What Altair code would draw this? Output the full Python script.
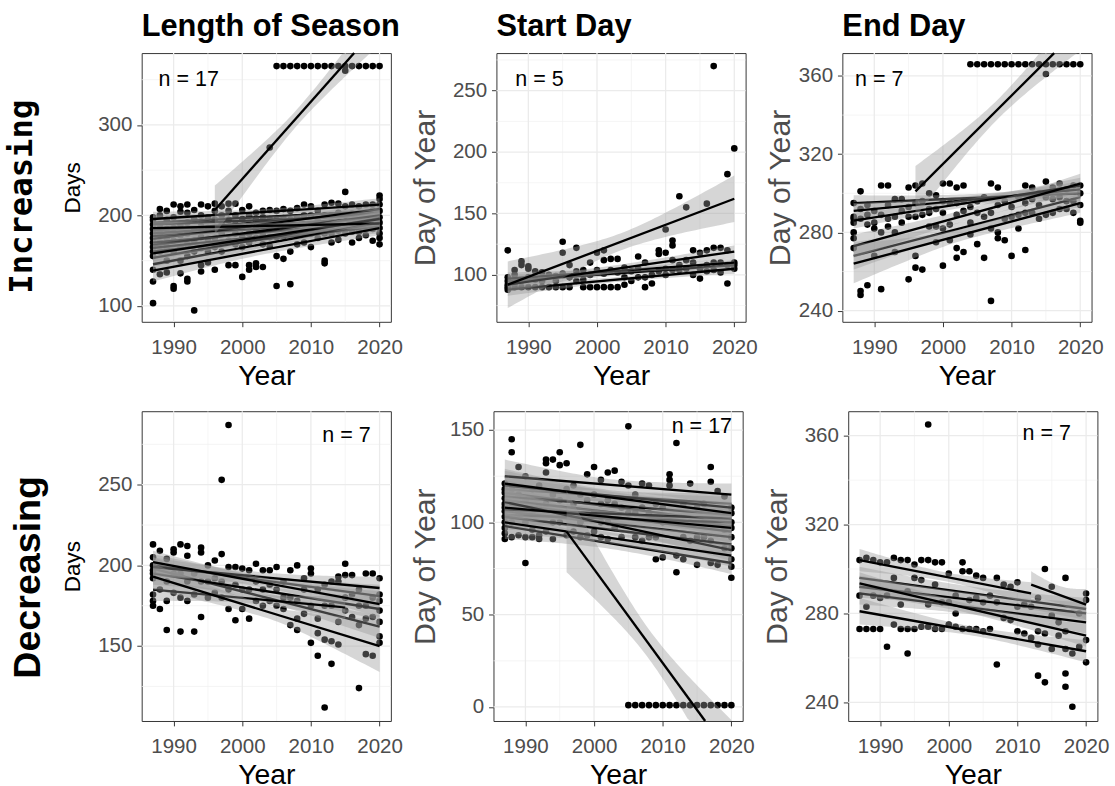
import altair as alt
import pandas as pd
import numpy as np

FONT = "Liberation Sans"
X_DOMAIN = [1985.35, 2021.65]
X_MAJOR = [1990, 2000, 2010, 2020]
X_MINOR = [1995, 2005, 2015]

col_titles = ["Length of Season", "Start Day", "End Day"]
row_titles = ["Increasing", "Decreasing"]

# ---------------- Length of Season, Increasing (n = 17) ----------------
ls_inc_pts = {
    1987: [103, 127, 140, 155, 160, 165, 170, 175, 180, 185, 190, 195, 198],
    1988: [207, 200, 190, 180, 170, 160, 135],
    1989: [205, 195, 185, 175, 165, 150, 137],
    1990: [212, 198, 186, 172, 160, 122, 119],
    1991: [210, 204, 190, 178, 165, 150, 136],
    1992: [212, 203, 192, 180, 168, 155, 130, 127],
    1993: [95, 206, 196, 184, 172, 160],
    1994: [212, 200, 188, 176, 164, 145, 138],
    1995: [210, 198, 186, 174, 160, 148],
    1996: [213, 205, 195, 185, 175, 165, 140],
    1997: [210, 200, 190, 180, 170, 160],
    1998: [213, 205, 195, 185, 172, 145],
    1999: [213, 200, 190, 180, 168, 145],
    2000: [206, 196, 186, 176, 165, 132],
    2001: [210, 200, 190, 180, 170, 140, 145],
    2002: [203, 195, 185, 175, 143, 147],
    2003: [205, 198, 188, 178, 168, 143],
    2004: [275, 206, 196, 186, 176, 166],
    2005: [365, 205, 196, 186, 176, 155, 122],
    2006: [365, 207, 197, 187, 177, 152],
    2007: [365, 205, 195, 185, 160, 124],
    2008: [365, 208, 198, 188, 178, 168],
    2009: [365, 212, 200, 190, 180, 170],
    2010: [365, 210, 200, 190, 180, 165],
    2011: [365, 205, 195, 185, 175],
    2012: [365, 212, 200, 190, 180, 150, 147],
    2013: [365, 214, 200, 190, 180, 170],
    2014: [365, 213, 203, 193, 183, 173],
    2015: [365, 360, 226, 210, 200, 190, 180],
    2016: [365, 212, 202, 192, 182, 170],
    2017: [365, 210, 200, 190, 182, 175],
    2018: [365, 212, 203, 193, 185, 178],
    2019: [365, 212, 205, 195, 185, 172],
    2020: [365, 222, 218, 212, 205, 198, 192, 186, 180, 175, 168],
}
# (start year, end year, start value, end value, band half-width start / middle / end)
ls_inc_fits = [
    (1987, 2020, 192, 205, 9, 4, 8), (1987, 2020, 190, 200, 9, 4, 8),
    (1987, 2020, 183, 203, 9, 4, 8), (1987, 2020, 180, 198, 9, 4, 8),
    (1987, 2020, 177, 195, 9, 4, 8), (1987, 2020, 174, 207, 9, 4, 8),
    (1987, 2020, 170, 193, 9, 4, 8), (1987, 2020, 167, 200, 9, 4, 8),
    (1987, 2020, 164, 190, 9, 4, 8), (1987, 2020, 160, 188, 9, 4, 8),
    (1987, 2020, 153, 197, 10, 4, 8), (1987, 2020, 146, 192, 10, 4, 8),
    (1987, 2020, 158, 196, 9, 4, 8), (1987, 2020, 186, 191, 8, 3, 7),
    (1987, 2020, 139, 186, 12, 5, 8), (1987, 2020, 196, 212, 8, 3, 7),
    (1996, 2020, 206, 411, 27, 9, 22),
]

# ---------------- Start Day, Increasing (n = 5) ----------------
sd_inc_pts = {
    1987: [120, 98, 95, 92, 90, 88], 1988: [104, 100, 93, 90], 1989: [111, 108, 95, 90],
    1990: [107, 105, 98, 90], 1991: [103, 96, 90], 1992: [102, 95, 90], 1993: [100, 90],
    1994: [99, 95, 90], 1995: [127, 118, 101, 90], 1996: [108, 98, 90], 1997: [122, 103, 95],
    1998: [104, 96, 90], 1999: [110, 100, 90], 2000: [118, 104, 90], 2001: [120, 112, 101, 90],
    2002: [113, 104, 90], 2003: [113, 102, 90], 2004: [106, 98, 92], 2005: [103, 95],
    2006: [115, 105, 98], 2007: [110, 98, 90], 2008: [100, 93], 2009: [120, 117, 103],
    2010: [137, 118, 105, 100], 2011: [128, 124, 112, 104], 2012: [164, 108, 104],
    2013: [155, 112, 105], 2014: [120, 110, 100], 2015: [118, 105, 97],
    2016: [158, 120, 108, 103], 2017: [270, 122, 110, 104], 2018: [122, 110, 102],
    2019: [182, 120, 108, 93], 2020: [203, 110, 108, 105],
}
sd_inc_fits = [
    (1987, 2020, 95, 108, 5, 2, 4), (1987, 2020, 97, 110, 5, 2, 4),
    (1987, 2020, 88, 105, 5, 2, 4), (1987, 2020, 92, 119, 6, 3, 5),
    (1987, 2020, 92, 162, 19, 7, 19),
]

# ---------------- End Day, Increasing (n = 7) ----------------
ed_inc_pts = {
    1987: [295, 288, 287, 285, 280, 277, 272], 1988: [301, 292, 287, 250, 248],
    1989: [294, 289, 284, 253], 1990: [291, 285, 282, 268], 1991: [304, 289, 280, 251],
    1992: [304, 294, 287, 283], 1993: [297, 288, 280, 270], 1994: [297, 291, 285],
    1995: [303, 293, 288, 256], 1996: [304, 295, 288, 268, 262], 1997: [305, 296, 289, 261],
    1998: [300, 292, 290, 283], 1999: [299, 292, 283, 275], 2000: [305, 296, 290, 282, 263],
    2001: [305, 295, 284, 276], 2002: [303, 295, 289, 272, 267], 2003: [304, 296, 291, 270],
    2004: [366, 293, 285, 279], 2005: [366, 296, 290, 274], 2006: [366, 298, 288, 267],
    2007: [366, 305, 290, 282, 245], 2008: [366, 303, 294, 280, 277], 2009: [366, 296, 287, 276],
    2010: [366, 293, 288, 268], 2011: [366, 298, 289, 282], 2012: [366, 304, 295, 290, 271],
    2013: [366, 303, 297, 290], 2014: [366, 300, 294, 287], 2015: [361, 366, 306, 298, 289],
    2016: [366, 303, 297, 290], 2017: [366, 305, 298, 292], 2018: [366, 302, 296, 292],
    2019: [366, 304, 296, 290], 2020: [366, 304, 300, 294, 286, 285],
}
ed_inc_fits = [
    (1987, 2020, 268, 298, 7, 3, 5), (1987, 2020, 295, 300, 4, 2, 4),
    (1987, 2020, 291, 302, 4, 2, 4), (1987, 2020, 286, 304, 4, 2, 4),
    (1987, 2020, 273, 305, 6, 3, 5), (1987, 2020, 264, 295, 10, 3, 5),
    (1996, 2020, 301, 385, 13, 5, 12),
]

# ---------------- Length of Season, Decreasing (n = 7) ----------------
ls_dec_pts = {
    1987: [213, 205, 200, 197, 195, 192, 182, 178, 175], 1988: [209, 200, 185, 173],
    1989: [204, 190, 178, 160], 1990: [210, 208, 195, 183], 1991: [213, 195, 180, 159],
    1992: [212, 206, 190, 178], 1993: [195, 182, 159], 1994: [211, 208, 190, 168],
    1995: [200, 190, 180], 1996: [203, 192, 183], 1997: [253, 207, 190, 180],
    1998: [287, 199, 185, 173], 1999: [199, 188, 166], 2000: [198, 185, 173],
    2001: [197, 185, 167], 2002: [201, 190, 178], 2003: [197, 185, 175], 2004: [197, 188, 178],
    2005: [199, 185, 175], 2006: [190, 180, 173], 2007: [197, 180, 163],
    2008: [200, 178, 167, 160], 2009: [192, 185, 170], 2010: [198, 195, 175, 152],
    2011: [185, 167, 158, 144], 2012: [188, 175, 154, 112], 2013: [190, 175, 153, 139],
    2014: [193, 190, 165, 151], 2015: [201, 194, 180, 172], 2016: [194, 182, 168],
    2017: [185, 175, 163, 124], 2018: [195, 175, 167, 145], 2019: [195, 180, 168, 144],
    2020: [192, 182, 178, 172, 165, 156, 152],
}
ls_dec_fits = [
    (1987, 2020, 198, 162, 7, 3, 7), (1987, 2020, 195, 173, 7, 3, 7),
    (1987, 2020, 200, 181, 7, 3, 7), (1987, 2015, 185, 174, 7, 3, 7),
    (1987, 2020, 199, 186, 6, 3, 7), (1987, 2020, 202, 176, 7, 3, 8),
    (1987, 2020, 193, 150, 8, 4, 16),
]

# ---------------- Start Day, Decreasing (n = 17) ----------------
sd_dec_pts = {
    1987: [121, 118, 116, 113, 110, 108, 106, 103, 100, 97, 94, 91],
    1988: [145, 138, 118, 110, 100, 92], 1989: [130, 115, 105, 93],
    1990: [125, 112, 100, 92, 78], 1991: [118, 105, 96, 92], 1992: [120, 108, 93, 91],
    1993: [134, 132, 127, 110, 95], 1994: [134, 115, 100, 91], 1995: [138, 131, 112, 100],
    1996: [132, 118, 105, 93], 1997: [120, 110, 95], 1998: [142, 115, 100, 92],
    1999: [126, 112, 93], 2000: [130, 115, 105, 95], 2001: [123, 110, 100, 92],
    2002: [127, 112, 100, 91], 2003: [128, 110, 97], 2004: [122, 108, 92],
    2005: [152, 120, 105, 1], 2006: [115, 105, 92, 1], 2007: [121, 108, 90, 1],
    2008: [120, 105, 92, 1], 2009: [110, 92, 80, 1], 2010: [108, 100, 81, 1],
    2011: [126, 123, 120, 1], 2012: [143, 100, 82, 73, 1], 2013: [110, 92, 80, 1],
    2014: [121, 100, 90, 1], 2015: [108, 92, 77, 1], 2016: [110, 100, 92, 1],
    2017: [130, 122, 90, 78, 1], 2018: [117, 100, 77, 1], 2019: [114, 96, 86, 1],
    2020: [108, 105, 100, 97, 92, 86, 80, 76, 70, 1],
}
sd_dec_fits = [
    (1987, 2020, 118, 110, 7, 3, 6), (1987, 2020, 116, 100, 7, 3, 6),
    (1987, 2020, 114, 104, 7, 3, 6), (1987, 2020, 112, 98, 7, 3, 6),
    (1987, 2020, 110, 95, 7, 3, 6), (1987, 2020, 106, 92, 7, 3, 6),
    (1987, 2020, 104, 100, 7, 3, 6), (1987, 2020, 103, 88, 7, 3, 6),
    (1987, 2020, 98, 78, 7, 3, 6), (1987, 2020, 107, 102, 7, 3, 6),
    (1987, 2020, 111, 85, 7, 3, 6), (1987, 2020, 120, 108, 9, 3, 6),
    (1987, 2020, 125, 115, 9, 3, 6), (1987, 2020, 121, 105, 7, 3, 6),
    (1987, 2020, 108, 97, 6, 3, 6), (1987, 2020, 100, 82, 6, 3, 6),
    (1996, 2020, 95, -27, 22, 8, 20),
]

# ---------------- End Day, Decreasing (n = 7) ----------------
ed_dec_pts = {
    1987: [304, 288, 273], 1988: [305, 283, 273], 1989: [304, 288, 273], 1990: [303, 287, 273],
    1991: [303, 288, 265], 1992: [305, 296, 275], 1993: [304, 284, 273],
    1994: [304, 290, 273, 262], 1995: [302, 296, 273], 1996: [304, 295, 274],
    1997: [365, 304, 284, 274], 1998: [303, 293, 273], 1999: [303, 285, 273],
    2000: [298, 285, 275], 2001: [288, 280, 274], 2002: [303, 299, 273], 2003: [299, 286, 273],
    2004: [297, 287, 273], 2005: [296, 285, 272], 2006: [288, 273], 2007: [296, 285, 257],
    2008: [293, 278], 2009: [292, 277], 2010: [294, 283, 272], 2011: [284, 271],
    2012: [283, 269], 2013: [287, 272, 266, 252], 2014: [300, 271, 249],
    2015: [292, 279, 264], 2016: [276, 270], 2017: [296, 272, 264, 253, 247],
    2018: [262, 238], 2019: [280, 265], 2020: [289, 286, 268, 258],
}
ed_dec_fits = [
    (1987, 2020, 296, 282, 5, 3, 5), (1987, 2020, 292, 280, 5, 3, 5),
    (1987, 2020, 289, 276, 5, 3, 5), (1987, 2012, 304, 289, 5, 2, 5),
    (2012, 2020, 293, 284, 6, 4, 7), (1987, 2020, 293.5, 270, 5, 2, 5),
    (1987, 2020, 281, 263, 6, 2, 5),
]

panels = [
    dict(pts=ls_inc_pts, fits=ls_inc_fits, ydom=[82.4, 379.4], yt=[100, 200, 300],
         ym=[150, 250, 350], ytitle="Days", note=(1987.8, 343.2, "n = 17", "left")),
    dict(pts=sd_inc_pts, fits=sd_inc_fits, ydom=[61.8, 280.6], yt=[100, 150, 200, 250],
         ym=[75, 125, 175, 225, 275], ytitle="Day of Year", note=(1988.1, 253.9, "n = 5", "left")),
    dict(pts=ed_inc_pts, fits=ed_inc_fits, ydom=[234.3, 371.7], yt=[240, 280, 320, 360],
         ym=[260, 300, 340], ytitle="Day of Year", note=(1987.2, 354.7, "n = 7", "left")),
    dict(pts=ls_dec_pts, fits=ls_dec_fits, ydom=[103.6, 295.5], yt=[150, 200, 250],
         ym=[125, 175, 225, 275], ytitle="Days", note=(2018.7, 276.5, "n = 7", "right")),
    dict(pts=sd_dec_pts, fits=sd_dec_fits, ydom=[-7.6, 160.2], yt=[0, 50, 100, 150],
         ym=[25, 75, 125], ytitle="Day of Year", note=(2020.1, 148.2, "n = 17", "right")),
    dict(pts=ed_dec_pts, fits=ed_dec_fits, ydom=[231.6, 371.0], yt=[240, 280, 320, 360],
         ym=[260, 300, 340], ytitle="Day of Year", note=(2017.8, 358.1, "n = 7", "right")),
]
title_pad = [14, 11, 2, 14, 8, 11]

W = 255
H_TOP = 275
H_BOT = 317


def points_df(d):
    return pd.DataFrame([(yr, v) for yr, vals in d.items() for v in vals], columns=["x", "y"])


def fits_dfs(fits, ydom):
    """Regression lines (cut where they leave the panel) and their confidence bands
    (limited to the panel), so nothing extends beyond the plotting area."""
    ymin, ymax = ydom
    band_rows, line_rows = [], []
    for i, (x0, x1, y0, y1, h0, hm, h1) in enumerate(fits):
        xs = np.linspace(x0, x1, 61)
        t = (xs - (x0 + x1) / 2) / ((x1 - x0) / 2)
        ys = y0 + (y1 - y0) * (xs - x0) / (x1 - x0)
        hw = np.where(t < 0, np.sqrt(hm**2 + (h0**2 - hm**2) * t**2),
                      np.sqrt(hm**2 + (h1**2 - hm**2) * t**2))
        lo = np.clip(ys - hw, ymin, ymax)
        hi = np.clip(ys + hw, ymin, ymax)
        for x, a, b in zip(xs, lo, hi):
            band_rows.append((i, x, a, b))
        slope = (y1 - y0) / (x1 - x0)
        xa, xb = x0, x1
        if y1 > ymax:
            xb = x0 + (ymax - y0) / slope
        if y1 < ymin:
            xb = x0 + (ymin - y0) / slope
        for x in (xa, xb):
            line_rows.append((i, x, y0 + slope * (x - x0)))
    return (pd.DataFrame(band_rows, columns=["s", "x", "lo", "hi"]),
            pd.DataFrame(line_rows, columns=["s", "x", "y"]))


def make_panel(k, height, title=None):
    cfg = panels[k]
    big = cfg["ytitle"] != "Days"
    xscale = alt.Scale(domain=X_DOMAIN, nice=False, zero=False)
    yscale = alt.Scale(domain=cfg["ydom"], nice=False, zero=False)
    xaxis = alt.Axis(values=X_MAJOR, format="d", title="Year", grid=False, domain=False,
                     labelPadding=10, titlePadding=5, titleFontSize=29, titleColor="black")
    yaxis = alt.Axis(values=cfg["yt"], title=cfg["ytitle"], grid=False, domain=False,
                     labelPadding=5, titlePadding=title_pad[k],
                     titleFontSize=31 if big else 23,
                     titleColor="#4D4D4D" if big else "black")

    def X(f="x:Q"):
        return alt.X(f, scale=xscale, axis=xaxis)

    def Y(f="y:Q"):
        return alt.Y(f, scale=yscale, axis=yaxis)

    layers = []
    layers.append(alt.Chart(pd.DataFrame({"x": X_MINOR})).mark_rule(color="#F0F0F0", strokeWidth=0.7).encode(x=X()))
    layers.append(alt.Chart(pd.DataFrame({"y": cfg["ym"]})).mark_rule(color="#F0F0F0", strokeWidth=0.7).encode(y=Y()))
    layers.append(alt.Chart(pd.DataFrame({"x": X_MAJOR})).mark_rule(color="#EBEBEB", strokeWidth=1.3).encode(x=X()))
    layers.append(alt.Chart(pd.DataFrame({"y": cfg["yt"]})).mark_rule(color="#EBEBEB", strokeWidth=1.3).encode(y=Y()))
    layers.append(alt.Chart(points_df(cfg["pts"])).mark_circle(size=46, color="black", opacity=1)
                  .encode(x=X(), y=Y()))
    band_df, line_df = fits_dfs(cfg["fits"], cfg["ydom"])
    for i in range(len(cfg["fits"])):
        layers.append(alt.Chart(band_df).transform_filter(alt.datum.s == i)
                      .mark_area(color="#999999", opacity=0.4)
                      .encode(x=X(), y=Y("lo:Q"), y2=alt.Y2("hi:Q")))
        layers.append(alt.Chart(line_df).transform_filter(alt.datum.s == i)
                      .mark_line(color="black", strokeWidth=2.4)
                      .encode(x=X(), y=Y()))
    nx, ny, nt, na = cfg["note"]
    layers.append(alt.Chart(pd.DataFrame({"x": [nx], "y": [ny], "t": [nt]}))
                  .mark_text(align=na, baseline="alphabetic", font=FONT, fontSize=22, color="black")
                  .encode(x=X(), y=Y(), text="t:N"))
    if title:
        # column heading, drawn just above the panel's left edge
        layers.append(alt.Chart(pd.DataFrame({"t": [title]}))
                      .mark_text(align="left", baseline="alphabetic", font=FONT, fontSize=31.5,
                                 fontWeight="bold", color="black")
                      .encode(text="t:N", x=alt.value(0), y=alt.value(-17)))
    return alt.layer(*layers).properties(width=W, height=height)


def row_label(text, height, font, size, xpos, ypos):
    return (alt.Chart(pd.DataFrame({"t": [text]}))
            .mark_text(angle=270, font=font, fontSize=size, fontWeight="bold", color="black",
                       align="center", baseline="middle")
            .encode(text="t:N", x=alt.value(xpos), y=alt.value(ypos))
            .properties(width=49, height=height, view=alt.ViewBackground(stroke="transparent")))


row1 = alt.hconcat(
    row_label(row_titles[0], H_TOP, "DejaVu Sans Mono", 33, 17, 147),
    make_panel(0, H_TOP, col_titles[0]),
    make_panel(1, H_TOP, col_titles[1]),
    make_panel(2, H_TOP, col_titles[2]),
    spacing=6,
)
row2 = alt.hconcat(
    row_label(row_titles[1], H_BOT, FONT, 38.5, 23, 170),
    make_panel(3, H_BOT),
    make_panel(4, H_BOT),
    make_panel(5, H_BOT),
    spacing=6,
)

chart = (
    alt.vconcat(row1, row2, spacing=18.5)
    .properties(padding={"left": 5, "top": 2, "right": 5, "bottom": 0}, background="white")
    .configure_view(stroke="#333333", strokeWidth=1)
    .configure_axis(labelFont=FONT, labelFontSize=21, labelColor="#4D4D4D", tickColor="#333333",
                    tickSize=5, tickWidth=1, titleFont=FONT, titleFontWeight="normal")
)

chart.save("out.html", embed_options={"renderer": "svg", "actions": False})
